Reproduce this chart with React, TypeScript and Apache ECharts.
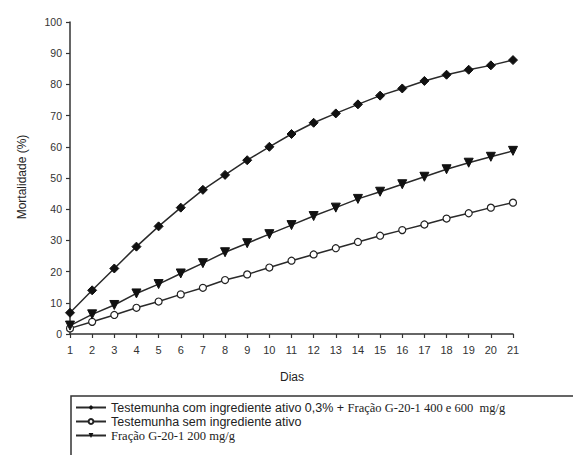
import React, { useEffect, useRef } from "react";
import * as echarts from "echarts";

const days = [1, 2, 3, 4, 5, 6, 7, 8, 9, 10, 11, 12, 13, 14, 15, 16, 17, 18, 19, 20, 21];
const comIngrediente = [6.8, 14, 21, 28, 34.5, 40.5, 46.2, 51, 55.7, 60, 64.1, 67.7, 70.7, 73.6, 76.4, 78.7, 81.1, 83.1, 84.7, 86.1, 87.8];
const semIngrediente = [1.8, 3.9, 6.1, 8.4, 10.4, 12.7, 14.8, 17.3, 19.1, 21.3, 23.5, 25.5, 27.5, 29.5, 31.5, 33.3, 35.1, 37, 38.7, 40.5, 42.1];
const fracao200 = [2.7, 6.3, 9.3, 13, 16, 19.4, 22.7, 26.2, 29.1, 32, 34.9, 37.8, 40.5, 43.3, 45.6, 48, 50.4, 52.8, 54.9, 56.8, 58.7];
const yTicks = [0, 10, 20, 30, 40, 50, 60, 70, 80, 90, 100];

const seriesNames = [
  "Testemunha com ingrediente ativo 0,3% + Fração G-20-1 400 e 600  mg/g",
  "Testemunha sem ingrediente ativo",
  "Fração G-20-1 200 mg/g",
];

const toPairs = (vals: number[]) => days.map((d, i) => [d, vals[i]]);

export default function App() {
  const ref = useRef<HTMLDivElement>(null);
  useEffect(() => {
    document.body.style.margin = "0";
    const chart = echarts.init(ref.current!, undefined, { renderer: "svg" });
    const lineColor = "#2a2a2a";
    chart.setOption({
      animation: false,
      backgroundColor: "#ffffff",
      grid: { left: 70, top: 22, width: 443, height: 312 },
      xAxis: {
        type: "value",
        min: 1,
        max: 21,
        interval: 1,
        axisLine: { lineStyle: { color: "#333", width: 1.5 } },
        axisTick: { show: true, length: 4, lineStyle: { color: "#333", width: 1.2 } },
        axisLabel: { color: "#333", fontSize: 11, margin: 10, fontFamily: "Liberation Sans, Arial, sans-serif" },
        splitLine: { show: false },
      },
      yAxis: {
        type: "value",
        min: yTicks[0],
        max: yTicks[yTicks.length - 1],
        interval: 10,
        axisLine: { show: true, lineStyle: { color: "#333", width: 1.5 } },
        axisTick: { show: true, length: 4, lineStyle: { color: "#333", width: 1.2 } },
        axisLabel: { color: "#333", fontSize: 10.5, margin: 8, fontFamily: "Liberation Sans, Arial, sans-serif" },
        splitLine: { show: false },
      },
      legend: {
        left: 70,
        top: 396,
        orient: "vertical",
        itemWidth: 30,
        itemHeight: 6,
        itemGap: 1,
        data: seriesNames,
        formatter: (name: string) => {
          if (name === seriesNames[0]) {
            return "{s|Testemunha com ingrediente ativo 0,3% + }{t|Fração G-20-1 400 e 600  mg/g}";
          }
          if (name === seriesNames[2]) return "{t|Fração G-20-1 200 mg/g}";
          return "{s|Testemunha sem ingrediente ativo}";
        },
        textStyle: {
          color: "#222",
          rich: {
            s: { fontSize: 12.5, lineHeight: 13, fontFamily: "Liberation Sans, Arial, sans-serif", color: "#222" },
            t: { fontSize: 12.5, lineHeight: 13, fontFamily: "Liberation Serif, Times New Roman, serif", color: "#222" },
          },
        },
      },
      graphic: [
        {
          type: "rect",
          shape: { x: 71, y: 396, width: 600, height: 100 },
          style: { fill: "none", stroke: "#333", lineWidth: 1.5 },
          z: 0,
        },
        {
          type: "text",
          x: 292,
          y: 377,
          style: { text: "Dias", fontSize: 12, fill: "#222", align: "center", verticalAlign: "middle", fontFamily: "Liberation Sans, Arial, sans-serif" },
        },
        {
          type: "text",
          x: 22,
          y: 177,
          rotation: Math.PI / 2,
          style: { text: "Mortalidade (%)", fontSize: 12, fill: "#222", align: "center", verticalAlign: "middle", fontFamily: "Liberation Sans, Arial, sans-serif" },
        },
      ],
      series: [
        {
          name: seriesNames[0],
          type: "line",
          data: toPairs(comIngrediente),
          symbol: "diamond",
          symbolSize: 9,
          lineStyle: { color: lineColor, width: 1.5 },
          itemStyle: { color: "#111", borderColor: "#111" },
        },
        {
          name: seriesNames[1],
          type: "line",
          data: toPairs(semIngrediente),
          symbol: "circle",
          symbolSize: 7,
          lineStyle: { color: lineColor, width: 1.5 },
          itemStyle: { color: "#ffffff", borderColor: "#222", borderWidth: 1.2 },
        },
        {
          name: seriesNames[2],
          type: "line",
          data: toPairs(fracao200),
          symbol: "triangle",
          symbolRotate: 180,
          symbolSize: 9,
          lineStyle: { color: lineColor, width: 1.5 },
          itemStyle: { color: "#111", borderColor: "#111" },
        },
      ],
    });
    return () => chart.dispose();
  }, []);
  return <div ref={ref} style={{ width: 573, height: 455 }} />;
}
